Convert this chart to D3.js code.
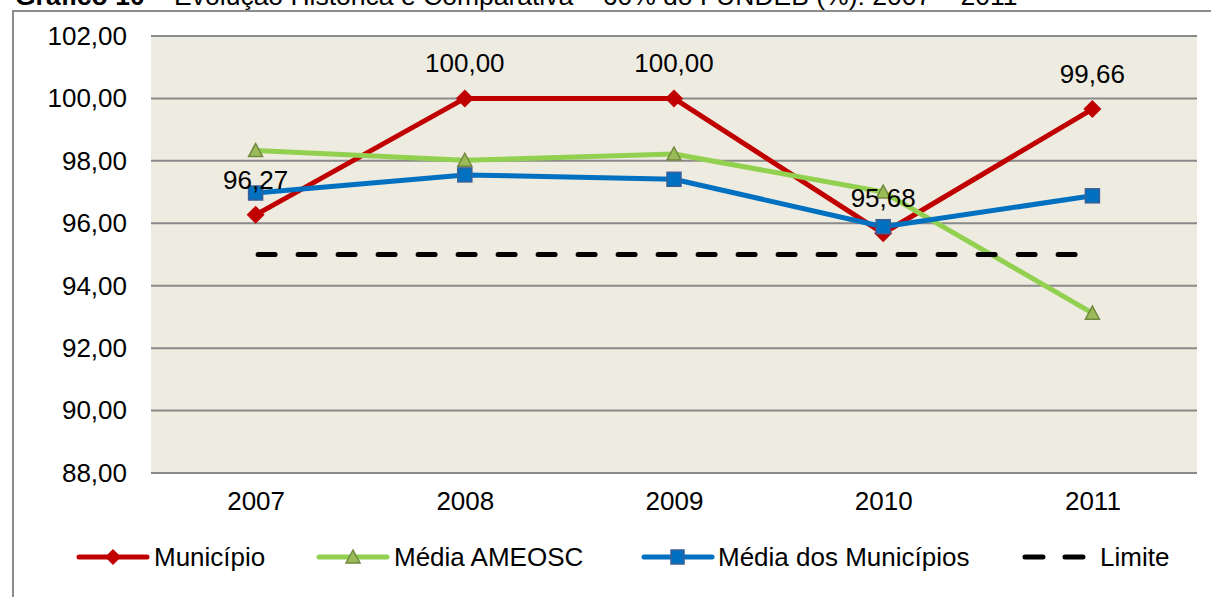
<!DOCTYPE html>
<html><head><meta charset="utf-8">
<script src="https://cdn.jsdelivr.net/npm/d3@7"></script>
<style>html,body{margin:0;padding:0;background:#fff;overflow:hidden}svg{display:block;font-family:"Liberation Sans",Arial,sans-serif}</style>
</head><body>
<svg id="c" width="1211" height="597"></svg>
<script>
const years = ["2007","2008","2009","2010","2011"];
const municipio = [96.27, 100.00, 100.00, 95.68, 99.66];
const mediaAmeosc = [98.33, 98.02, 98.22, 97.00, 93.12];
const mediaMunicipios = [96.97, 97.55, 97.41, 95.89, 96.88];
const limite = [95, 95, 95, 95, 95];
const yTicks = [88, 90, 92, 94, 96, 98, 100, 102];
const seriesNames = ["Município", "Média AMEOSC", "Média dos Municípios", "Limite"];
const municipioLabels = ["96,27", "100,00", "100,00", "95,68", "99,66"];

const svg = d3.select("#c");
const fmt = v => v.toFixed(2).replace(".", ",");
const FS = 26;

// title (cut off at top, as in the reference)
const title = svg.append("text").attr("x", 15).attr("y", 5).attr("font-size", 26.5).attr("fill", "#000");
title.append("tspan").attr("font-weight", "bold").text("Gráfico 10");
title.append("tspan").text(" – Evolução Histórica e Comparativa – 60% do FUNDEB (%): 2007 – 2011");

// outer frame
svg.append("path").attr("d", "M13,597 L13,11 L1211,11").attr("fill", "none").attr("stroke", "#8c8c8c").attr("stroke-width", 2);

const L = 151, R = 1197, T = 36, B = 473;
const x = d3.scalePoint().domain(years).range([L, R]).padding(0.5);
const y = d3.scaleLinear().domain([88, 102]).range([B, T]);

svg.append("rect").attr("x", L).attr("y", T).attr("width", R - L).attr("height", B - T).attr("fill", "#EEEBE0");

// grid
svg.append("g").selectAll("line").data(yTicks).join("line")
  .attr("x1", L).attr("x2", R).attr("y1", d => y(d)).attr("y2", d => y(d))
  .attr("stroke", "#8a8a8a").attr("stroke-width", 2);

// y axis labels
const yAxis = d3.axisLeft(y).tickValues(yTicks).tickFormat(fmt).tickSize(0).tickPadding(0);
const gy = svg.append("g").attr("transform", `translate(${L - 24},0)`).call(yAxis);
gy.select(".domain").remove();
gy.selectAll("text").attr("font-size", FS).attr("fill", "#000").attr("font-family", "Liberation Sans, Arial, sans-serif");

// x axis labels
const xAxis = d3.axisBottom(x).tickSize(0).tickPadding(0);
const gx = svg.append("g").attr("transform", `translate(0,${B + 19})`).call(xAxis);
gx.select(".domain").remove();
gx.selectAll("text").attr("font-size", FS).attr("fill", "#000").attr("font-family", "Liberation Sans, Arial, sans-serif");

const line = d3.line().x((d, i) => x(years[i])).y(d => y(d));

const red = "#C00000", green = "#92D050", blue = "#0070C0";

// Município
svg.append("path").datum(municipio).attr("d", line).attr("fill", "none").attr("stroke", red).attr("stroke-width", 5).attr("stroke-linejoin", "round");
svg.append("g").selectAll("path").data(municipio).join("path")
  .attr("transform", (d, i) => `translate(${x(years[i])},${y(d)})`)
  .attr("d", "M0,-9 L9,0 L0,9 L-9,0 Z").attr("fill", red);

// Média AMEOSC
svg.append("path").datum(mediaAmeosc).attr("d", line).attr("fill", "none").attr("stroke", green).attr("stroke-width", 5).attr("stroke-linejoin", "round");
svg.append("g").selectAll("path").data(mediaAmeosc).join("path")
  .attr("transform", (d, i) => `translate(${x(years[i])},${y(d)})`)
  .attr("d", "M0,-7 L7,6 L-7,6 Z").attr("fill", "#9BBB59").attr("stroke", "#71893F").attr("stroke-width", 1.5);

// Média dos Municípios
svg.append("path").datum(mediaMunicipios).attr("d", line).attr("fill", "none").attr("stroke", blue).attr("stroke-width", 5).attr("stroke-linejoin", "round");
svg.append("g").selectAll("rect").data(mediaMunicipios).join("rect")
  .attr("x", (d, i) => x(years[i]) - 7).attr("y", d => y(d) - 7).attr("width", 14).attr("height", 14)
  .attr("fill", blue).attr("stroke", "#3A6097").attr("stroke-width", 1.5);

// Limite
svg.append("path").datum(limite).attr("d", line).attr("fill", "none").attr("stroke", "#000").attr("stroke-width", 5)
  .attr("stroke-dasharray", "17,23").attr("stroke-linecap", "round").attr("transform", "translate(2.5,0)");

// labels
svg.append("g").selectAll("text").data(municipio).join("text")
  .attr("x", (d, i) => x(years[i])).attr("y", d => y(d) - 26)
  .attr("text-anchor", "middle").attr("font-size", FS).attr("fill", "#000")
  .text((d, i) => municipioLabels[i]);

// legend
const ly = 557;
const lg = svg.append("g");
function legLine(x0, color) {
  lg.append("line").attr("x1", x0).attr("x2", x0 + 68).attr("y1", ly).attr("y2", ly)
    .attr("stroke", color).attr("stroke-width", 5).attr("stroke-linecap", "round");
}
function legText(x0, t) {
  lg.append("text").attr("x", x0).attr("y", ly + 9).attr("font-size", FS).attr("fill", "#000").text(t);
}
legLine(79, red);
lg.append("path").attr("transform", `translate(113,${ly})`).attr("d", "M0,-8 L8,0 L0,8 L-8,0 Z").attr("fill", red);
legText(154, seriesNames[0]);
legLine(319, green);
lg.append("path").attr("transform", `translate(353,${ly})`).attr("d", "M0,-7 L7,6 L-7,6 Z").attr("fill", "#9BBB59").attr("stroke", "#71893F").attr("stroke-width", 1.5);
legText(394, seriesNames[1]);
legLine(644, blue);
lg.append("rect").attr("x", 671).attr("y", ly - 7).attr("width", 13).attr("height", 14).attr("fill", blue).attr("stroke", "#3A6097").attr("stroke-width", 1.5);
legText(718, seriesNames[2]);
lg.append("line").attr("x1", 1025).attr("x2", 1083).attr("y1", ly).attr("y2", ly)
  .attr("stroke", "#000").attr("stroke-width", 5).attr("stroke-dasharray", "18,22").attr("stroke-linecap", "round");
legText(1100, seriesNames[3]);
</script>
</body></html>
